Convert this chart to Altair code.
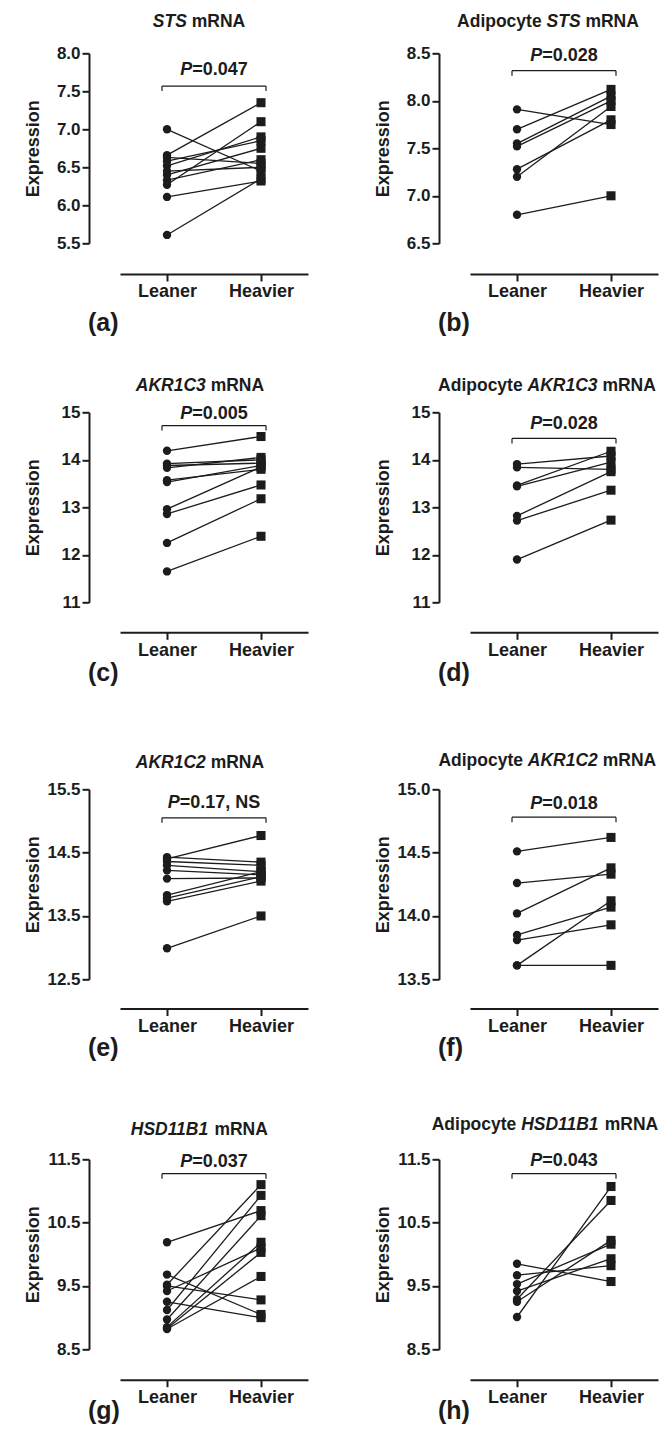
import altair as alt
import pandas as pd

FONT = "Liberation Sans"
INK = "#1c1c1c"
GROUPS = ["Leaner", "Heavier"]

# ---------------- data ----------------
STS_LEAN = [7.00, 6.66, 6.63, 6.58, 6.52, 6.45, 6.40, 6.33, 6.27, 6.11, 5.61]
STS_HEAVY = [6.45, 7.35, 6.55, 6.85, 6.90, 6.50, 6.75, 6.60, 7.10, 6.32, 6.35]

ADI_STS_LEAN = [7.91, 7.70, 7.55, 7.52, 7.28, 7.20, 6.80]
ADI_STS_HEAVY = [7.75, 8.12, 8.05, 8.00, 7.80, 7.94, 7.00]

AKR1C3_LEAN = [14.19, 13.92, 13.88, 13.83, 13.57, 13.53, 12.96, 12.86, 12.25, 11.65]
AKR1C3_HEAVY = [14.49, 14.00, 13.93, 14.05, 13.80, 13.88, 13.85, 13.47, 13.18, 12.39]

ADI_AKR1C3_LEAN = [13.91, 13.84, 13.46, 13.44, 12.82, 12.72, 11.90]
ADI_AKR1C3_HEAVY = [14.08, 13.80, 14.18, 13.95, 13.75, 13.36, 12.73]

AKR1C2_LEAN = [14.40, 14.43, 14.36, 14.30, 14.22, 14.09, 13.83, 13.78, 13.73, 12.99]
AKR1C2_HEAVY = [14.77, 14.35, 14.30, 14.20, 14.15, 14.10, 14.20, 14.12, 14.05, 13.50]

ADI_AKR1C2_LEAN = [14.51, 14.26, 14.02, 13.85, 13.81, 13.61, 13.61]
ADI_AKR1C2_HEAVY = [14.62, 14.33, 14.38, 14.07, 13.93, 14.12, 13.61]

HSD_LEAN = [10.19, 9.68, 9.52, 9.50, 9.42, 9.25, 9.12, 8.97, 8.85, 8.83, 8.82]
HSD_HEAVY = [10.69, 9.05, 11.10, 9.28, 10.10, 9.00, 10.93, 10.61, 10.19, 10.03, 9.65]

ADI_HSD_LEAN = [9.85, 9.67, 9.53, 9.42, 9.29, 9.25, 9.01]
ADI_HSD_HEAVY = [9.57, 9.82, 10.16, 9.93, 10.85, 10.22, 11.07]

# titles: (normal prefix, italic gene, normal suffix)
TITLES = [
    ("", "STS", "mRNA"), ("Adipocyte", "STS", "mRNA"),
    ("", "AKR1C3", "mRNA"), ("Adipocyte", "AKR1C3", "mRNA"),
    ("", "AKR1C2", "mRNA"), ("Adipocyte", "AKR1C2", "mRNA"),
    ("", "HSD11B1", "mRNA"), ("Adipocyte", "HSD11B1", "mRNA"),
]
P_TEXTS = ["=0.047", "=0.028", "=0.005", "=0.028", "=0.17, NS", "=0.018", "=0.037", "=0.043"]
P_LEVELS = [7.714, 8.419, 14.86, 14.65, 15.204, 14.846, 11.378, 11.394]
BRACKET_LEVELS = [7.569, 8.317, 14.72, 14.45, 15.05, 14.78, 11.273, 11.273]
PANEL_LABELS = ["(a)", "(b)", "(c)", "(d)", "(e)", "(f)", "(g)", "(h)"]

Y_DOMAINS = [[5.5, 8.0], [6.5, 8.5], [11, 15], [11, 15],
             [12.5, 15.5], [13.5, 15.0], [8.5, 11.5], [8.5, 11.5]]
Y_TICKS = [
    [5.5, 6.0, 6.5, 7.0, 7.5, 8.0], [6.5, 7.0, 7.5, 8.0, 8.5],
    [11, 12, 13, 14, 15], [11, 12, 13, 14, 15],
    [12.5, 13.5, 14.5, 15.5], [13.5, 14.0, 14.5, 15.0],
    [8.5, 9.5, 10.5, 11.5], [8.5, 9.5, 10.5, 11.5],
]
Y_FORMATS = [".1f", ".1f", "d", "d", ".1f", ".1f", ".1f", ".1f"]

SERIES = [
    (STS_LEAN, STS_HEAVY), (ADI_STS_LEAN, ADI_STS_HEAVY),
    (AKR1C3_LEAN, AKR1C3_HEAVY), (ADI_AKR1C3_LEAN, ADI_AKR1C3_HEAVY),
    (AKR1C2_LEAN, AKR1C2_HEAVY), (ADI_AKR1C2_LEAN, ADI_AKR1C2_HEAVY),
    (HSD_LEAN, HSD_HEAVY), (ADI_HSD_LEAN, ADI_HSD_HEAVY),
]

# ---------------- layout / style ----------------
W = 188
RANGE_H = 190
ROW_PLOT_H = [188.4, 206.1, 199.5, 190.0]
ROW_XAXIS_POS = [220.7, 220.0, 219.2, 220.4]
TITLE_BASE = [-26.6, -26.6, -21.7, -21.0, -21.1, -22.8, -24.0, -29.0]
TITLE_CENTER = [79, 78, 80, 77, 80, 77.3, 79.3, 75]
LABEL_BASE = [278.2, 268.3, 267.2, 260.0]
YAXIS_OFFSET = 31
FS = 18
TITLE_FS = 17.5

ARIAL_BOLD = {' ': 278, 'A': 722, 'B': 722, 'C': 722, 'D': 722, 'E': 667, 'H': 722,
              'K': 722, 'N': 722, 'P': 667, 'R': 722, 'S': 667, 'T': 611, 'a': 556,
              'c': 556, 'd': 611, 'e': 556, 'i': 278, 'm': 889, 'o': 611, 'p': 611,
              't': 333, 'y': 556, '.': 278, '=': 584, ',': 278}


def tw(s, fs=FS):
    return sum(ARIAL_BOLD.get(ch, 556) for ch in s) * fs / 1000.0


ONE = pd.DataFrame({"k": [0]})


def txt(text, x, y, italic=False, size=FS, align="left"):
    kw = dict(text=text, font=FONT, fontSize=size, fontWeight="bold", color=INK,
              align=align, baseline="alphabetic")
    if italic:
        kw["fontStyle"] = "italic"
    return alt.Chart(ONE).mark_text(**kw).encode(x=alt.value(x), y=y)


def panel(i):
    row = i // 2
    lean, heavy = SERIES[i]
    n = len(lean)
    df = pd.DataFrame({
        "pair": list(range(n)) * 2,
        "group": ["Leaner"] * n + ["Heavier"] * n,
        "value": lean + heavy,
    })
    H = ROW_PLOT_H[row]
    x = alt.X("group:N", sort=GROUPS,
              scale=alt.Scale(type="point", padding=0.5, domain=GROUPS),
              axis=alt.Axis(title=None, orient="bottom", offset=ROW_XAXIS_POS[row] - H,
                            domainWidth=2, domainColor=INK, tickWidth=2, tickColor=INK,
                            tickSize=7, labelAngle=0, labelFont=FONT, labelFontSize=FS,
                            labelFontWeight="bold", labelColor=INK, labelPadding=2,
                            grid=False))
    y = alt.Y("value:Q",
              scale=alt.Scale(domain=Y_DOMAINS[i], range=[RANGE_H, 0], nice=False, zero=False),
              axis=alt.Axis(title="Expression", values=Y_TICKS[i], format=Y_FORMATS[i],
                            orient="left", offset=YAXIS_OFFSET, domainWidth=2, domainColor=INK,
                            tickWidth=2, tickColor=INK, tickSize=7, labelFont=FONT,
                            labelFontSize=17, labelFontWeight="bold", labelColor=INK,
                            labelPadding=2, labelFlush=False, labelOverlap=False, grid=False,
                            titleFont=FONT, titleFontSize=FS, titleFontWeight="bold",
                            titleColor=INK, titleAngle=270, titleAlign="center",
                            titleBaseline="alphabetic", titleX=-81.5 + YAXIS_OFFSET,
                            titleY=RANGE_H / 2))
    base = alt.Chart(df)
    lines = base.mark_line(color=INK, strokeWidth=1.3).encode(x=x, y=y, detail="pair:N")
    dots = base.transform_filter(alt.datum.group == "Leaner").mark_point(
        shape="circle", filled=True, size=70, color=INK, opacity=1).encode(x=x, y=y)
    squares = base.transform_filter(alt.datum.group == "Heavier").mark_point(
        shape="square", filled=True, size=82, color=INK, opacity=1).encode(x=x, y=y)

    # bracket
    bdf = pd.DataFrame({"group": ["Leaner"], "group2": ["Heavier"],
                        "value": [BRACKET_LEVELS[i]]})
    hrule = alt.Chart(bdf).mark_rule(color=INK, strokeWidth=1.2, xOffset=-5, x2Offset=5).encode(
        x=x, x2=alt.X2("group2"), y=y)
    ldf = pd.DataFrame({"group": ["Leaner"], "value": [BRACKET_LEVELS[i]]})
    rdf = pd.DataFrame({"group": ["Heavier"], "value": [BRACKET_LEVELS[i]]})
    lend = alt.Chart(ldf).mark_rule(color=INK, strokeWidth=1.2, xOffset=-5, y2Offset=5).encode(
        x=x, y=y, y2=alt.Y2("value"))
    rend = alt.Chart(rdf).mark_rule(color=INK, strokeWidth=1.2, xOffset=5, y2Offset=5).encode(
        x=x, y=y, y2=alt.Y2("value"))

    layers = [lines, dots, squares, hrule, lend, rend]

    # P text: italic "P" + rest, centred between the groups
    rest = P_TEXTS[i]
    total = tw("P") + tw(rest)
    start = W / 2 - total / 2
    pdf = pd.DataFrame({"value": [P_LEVELS[i]]})
    layers.append(alt.Chart(pdf).mark_text(text="P", font=FONT, fontSize=FS, fontWeight="bold",
                                           fontStyle="italic", color=INK, align="left",
                                           baseline="alphabetic")
                  .encode(x=alt.value(start), y=y))
    layers.append(alt.Chart(pdf).mark_text(text=rest, font=FONT, fontSize=FS, fontWeight="bold",
                                           color=INK, align="left", baseline="alphabetic")
                  .encode(x=alt.value(start + tw("P")), y=y))

    # title with italic gene name
    pre, gene, post = TITLES[i]
    sp = tw(" ", TITLE_FS)
    parts = []
    if pre:
        parts.append((pre, False))
    parts.append((gene, True))
    parts.append((post, False))
    widths = [tw(p, TITLE_FS) for p, _ in parts]
    ttotal = sum(widths) + sp * (len(parts) - 1)
    cx = TITLE_CENTER[i] - ttotal / 2
    for (p, it), wdt in zip(parts, widths):
        layers.append(txt(p, cx, alt.value(TITLE_BASE[i]), italic=it, size=TITLE_FS))
        cx += wdt + sp

    # panel letter
    layers.append(txt(PANEL_LABELS[i], -32, alt.value(LABEL_BASE[row]), size=25))

    return alt.layer(*layers).properties(width=W, height=H)


chart = alt.concat(*[panel(i) for i in range(8)], columns=2,
                   spacing={"row": 170, "column": 162}).properties(
    bounds="flush", align="each",
    padding={"left": 16, "top": 4.3, "right": 0, "bottom": 4},
).configure(font=FONT, view=alt.ViewConfig(stroke=None))

chart.save("out.html", embed_options={"renderer": "svg", "actions": False})
